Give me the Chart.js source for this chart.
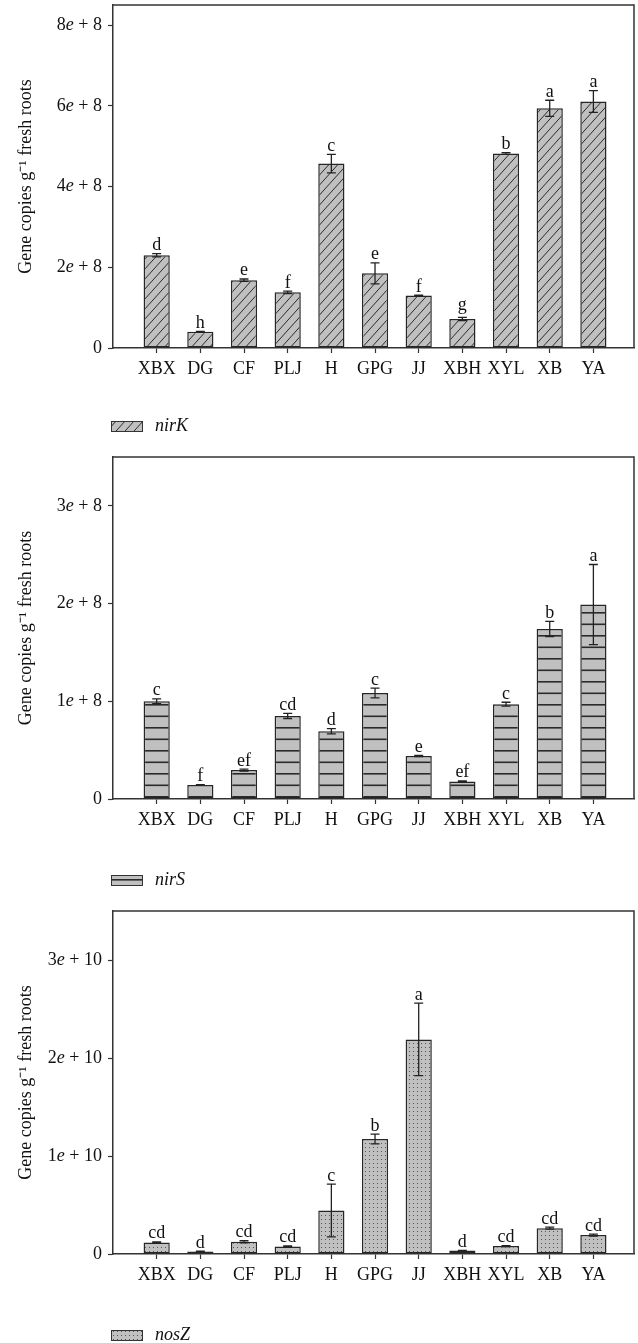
<!DOCTYPE html>
<html><head><meta charset="utf-8">
<script src="https://cdn.jsdelivr.net/npm/chart.js@4/dist/chart.umd.min.js"></script>
<style>body{margin:0;background:#fff}canvas{display:block}</style>
</head><body>
<canvas id="c1" width="638" height="440"></canvas>
<canvas id="c2" width="638" height="450"></canvas>
<canvas id="c3" width="638" height="453"></canvas>
<script>
// ---- data ----
const categories = ['XBX','DG','CF','PLJ','H','GPG','JJ','XBH','XYL','XB','YA'];

const nirK       = [2.30e8, 0.40e8, 1.68e8, 1.38e8, 4.57e8, 1.85e8, 1.30e8, 0.72e8, 4.82e8, 5.94e8, 6.11e8];
const nirKErr    = [0.04e8, 0.01e8, 0.03e8, 0.03e8, 0.23e8, 0.26e8, 0.01e8, 0.04e8, 0.02e8, 0.20e8, 0.27e8];
const nirKLetters = ['d','h','e','f','c','e','f','g','b','a','a'];
const nirKTicks  = [0, 2e8, 4e8, 6e8, 8e8];
const nirKTickLabels = ['0','2e + 8','4e + 8','6e + 8','8e + 8'];

const nirS       = [1.00e8, 0.143e8, 0.296e8, 0.85e8, 0.694e8, 1.085e8, 0.44e8, 0.18e8, 0.97e8, 1.74e8, 1.99e8];
const nirSErr    = [0.024e8, 0.003e8, 0.01e8, 0.026e8, 0.027e8, 0.05e8, 0.006e8, 0.005e8, 0.02e8, 0.077e8, 0.41e8];
const nirSLetters = ['c','f','ef','cd','d','c','e','ef','c','b','a'];
const nirSTicks  = [0, 1e8, 2e8, 3e8];
const nirSTickLabels = ['0','1e + 8','2e + 8','3e + 8'];

const nosZ       = [0.118e10, 0.026e10, 0.125e10, 0.077e10, 0.444e10, 1.173e10, 2.19e10, 0.035e10, 0.081e10, 0.264e10, 0.193e10];
const nosZErr    = [0.005e10, 0.003e10, 0.01e10, 0.005e10, 0.27e10, 0.05e10, 0.37e10, 0.003e10, 0.005e10, 0.01e10, 0.01e10];
const nosZLetters = ['cd','d','cd','cd','c','b','a','d','cd','cd','cd'];
const nosZTicks  = [0, 1e10, 2e10, 3e10];
const nosZTickLabels = ['0','1e + 10','2e + 10','3e + 10'];

const yTitle = 'Gene copies g\u207B\u00B9 fresh roots';

// ---- style ----
const FILL = '#c0c0c0';
const INK = '#222';
const FONT = '"Liberation Serif", "Times New Roman", serif';

function makePattern(ctx, kind) {
  const c = document.createElement('canvas');
  const g = c.getContext('2d');
  if (kind === 'hatch') {
    c.width = 9; c.height = 10;
    g.fillStyle = FILL; g.fillRect(0,0,9,10);
    g.strokeStyle = '#2a2a2a'; g.lineWidth = 1;
    g.beginPath();
    for (const dx of [-9, 0, 9]) { g.moveTo(dx, 10); g.lineTo(dx + 9, 0); }
    g.stroke();
  } else if (kind === 'hlines') {
    c.width = 4; c.height = 23;
    g.fillStyle = FILL; g.fillRect(0,0,4,23);
    g.fillStyle = '#2a2a2a';
    g.fillRect(0, 5, 4, 1.6);
    g.fillRect(0, 16.5, 4, 1.6);
  } else {
    c.width = 4; c.height = 4;
    g.fillStyle = FILL; g.fillRect(0,0,4,4);
    g.fillStyle = '#555';
    g.fillRect(1, 1, 1, 1);
  }
  return ctx.createPattern(c, 'repeat');
}

// draw "2e + 8" with an italic e, right-aligned at x
function drawSciLabel(c, text, x, y) {
  const k = text.indexOf('e');
  const parts = k < 0 ? [[text, false]] : [[text.slice(0, k), false], ['e', true], [text.slice(k + 1), false]];
  const fontOf = it => (it ? 'italic ' : '') + '18px ' + FONT;
  let total = 0;
  parts.forEach(([t, it]) => { c.font = fontOf(it); total += c.measureText(t).width; });
  let cx = x - total;
  c.textAlign = 'left';
  parts.forEach(([t, it]) => { c.font = fontOf(it); c.fillText(t, cx, y); cx += c.measureText(t).width; });
}

function makeChart(id, cfg) {
  const canvas = document.getElementById(id);
  const ctx = canvas.getContext('2d');
  const pattern = makePattern(ctx, cfg.pattern);

  const decor = {
    id: 'decor' + id,
    beforeDatasetsDraw(chart) {
      if (cfg.pattern === 'hlines' && pattern.setTransform) {
        const y0 = chart.scales.y.getPixelForValue(0);
        pattern.setTransform(new DOMMatrix([1,0,0,1,0,(y0 - 8) % 23]));
      }
    },
    afterDatasetsDraw(chart) {
      const c = chart.ctx, ys = chart.scales.y, meta = chart.getDatasetMeta(0);
      const a = chart.chartArea;
      c.save();
      // frame top & right
      c.strokeStyle = '#333'; c.lineWidth = 1.5;
      c.beginPath();
      c.moveTo(a.left, a.top); c.lineTo(a.right, a.top); c.lineTo(a.right, a.bottom);
      c.stroke();
      // error bars + letters
      c.strokeStyle = INK; c.lineWidth = 1.3;
      c.fillStyle = '#111';
      c.font = '18px ' + FONT;
      c.textAlign = 'center'; c.textBaseline = 'alphabetic';
      cfg.values.forEach((v, i) => {
        const x = meta.data[i].x;
        const yT = ys.getPixelForValue(v + cfg.errs[i]);
        const yB = ys.getPixelForValue(v - cfg.errs[i]);
        c.beginPath();
        c.moveTo(x, yT); c.lineTo(x, yB);
        c.moveTo(x - 4.5, yT); c.lineTo(x + 4.5, yT);
        c.moveTo(x - 4.5, yB); c.lineTo(x + 4.5, yB);
        c.stroke();
        const m = c.measureText(cfg.letters[i]);
        const desc = Math.max(0, m.actualBoundingBoxDescent || 0);
        c.fillText(cfg.letters[i], x, yT - 3.5 - desc);
      });
      // y tick labels with italic e
      c.fillStyle = '#111';
      c.textBaseline = 'middle';
      cfg.ticks.forEach((v, k) => {
        drawSciLabel(c, cfg.tickLabels[k], a.left - 11, ys.getPixelForValue(v));
      });
      c.restore();
    },
    afterDraw(chart) {
      const c = chart.ctx;
      c.save();
      const lx = 111, ly = cfg.legendY;
      if (cfg.pattern === 'hlines' && pattern.setTransform) {
        pattern.setTransform(new DOMMatrix([1,0,0,1,0,(ly + 4 - 5) % 23]));
      }
      c.fillStyle = pattern;
      c.fillRect(lx, ly, 31, 10);
      c.strokeStyle = '#333'; c.lineWidth = 1;
      c.strokeRect(lx + 0.5, ly + 0.5, 31, 10);
      c.fillStyle = '#111';
      c.font = 'italic 18px ' + FONT;
      c.textAlign = 'left'; c.textBaseline = 'middle';
      c.fillText(cfg.label, 155, ly + 5);
      c.restore();
    }
  };

  return new Chart(ctx, {
    type: 'bar',
    data: {
      datasets: [{
        label: cfg.label,
        data: cfg.values.map((v, i) => ({ x: i, y: v })),
        backgroundColor: pattern,
        borderColor: '#262626',
        borderWidth: 1.5,
        borderSkipped: false,
        barPercentage: 0.6,
        categoryPercentage: 1.0
      }]
    },
    options: {
      responsive: false,
      animation: false,
      devicePixelRatio: 1,
      layout: { padding: { top: cfg.padTop, right: 4, left: 0, bottom: cfg.padBottom } },
      plugins: { legend: { display: false }, tooltip: { enabled: false } },
      scales: {
        x: {
          type: 'linear',
          offset: false,
          min: -1, max: 10.93,
          afterBuildTicks: s => { s.ticks = categories.map((_, i) => ({ value: i })); },
          afterFit: s => { s.height = 40; s.paddingLeft = 0; s.paddingRight = 0; },
          ticks: {
            callback: v => categories[v] ?? '',
            font: { family: FONT, size: 18 },
            color: '#111',
            padding: 5,
            maxRotation: 0,
            autoSkip: false
          },
          grid: { drawOnChartArea: false, drawTicks: true, tickLength: 5, color: '#333', tickWidth: 1.2, offset: false },
          border: { display: true, color: '#333', width: 1.5 }
        },
        y: {
          min: 0, max: cfg.yMax,
          afterBuildTicks: s => { s.ticks = cfg.ticks.map(v => ({ value: v })); },
          afterFit: s => { s.width = 113; s.paddingTop = 0; s.paddingBottom = 0; },
          ticks: {
            callback: (v) => { const k = cfg.ticks.indexOf(v); return k >= 0 ? cfg.tickLabels[k] : ''; },
            font: { family: FONT, size: 18 },
            color: 'rgba(0,0,0,0)',
            padding: 5
          },
          title: {
            display: true,
            text: yTitle,
            font: { family: FONT, size: 18 },
            color: '#111',
            padding: { top: 15, bottom: 0 }
          },
          grid: { drawOnChartArea: false, drawTicks: true, tickLength: 5, color: '#333', tickWidth: 1.2 },
          border: { display: true, color: '#333', width: 1.5 }
        }
      }
    },
    plugins: [decor]
  });
}

makeChart('c1', {
  values: nirK, errs: nirKErr, letters: nirKLetters, ticks: nirKTicks, tickLabels: nirKTickLabels,
  yMax: 8.5e8, pattern: 'hatch', label: 'nirK', padTop: 5, padBottom: 52, legendY: 421
});
makeChart('c2', {
  values: nirS, errs: nirSErr, letters: nirSLetters, ticks: nirSTicks, tickLabels: nirSTickLabels,
  yMax: 3.5e8, pattern: 'hlines', label: 'nirS', padTop: 17, padBottom: 51, legendY: 435
});
makeChart('c3', {
  values: nosZ, errs: nosZErr, letters: nosZLetters, ticks: nosZTicks, tickLabels: nosZTickLabels,
  yMax: 3.5e10, pattern: 'dots', label: 'nosZ', padTop: 21, padBottom: 49, legendY: 440
});
</script>
</body></html>
